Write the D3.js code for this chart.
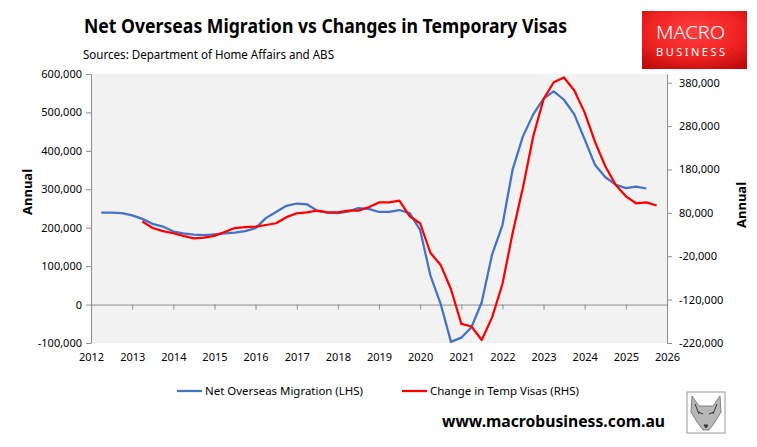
<!DOCTYPE html>
<html>
<head>
<meta charset="utf-8">
<script src="https://cdn.jsdelivr.net/npm/d3@7"></script>
<style>
  body { margin: 0; background: #fff; }
  svg { display: block; }
  text { font-family: "Noto Sans", sans-serif; fill: #000; }
</style>
</head>
<body>
<div id="chart"></div>
<script>
// quarterly observations
var quarters = [
  "2012-04","2012-07","2012-10","2013-01","2013-04","2013-07","2013-10","2014-01",
  "2014-04","2014-07","2014-10","2015-01","2015-04","2015-07","2015-10","2016-01",
  "2016-04","2016-07","2016-10","2017-01","2017-04","2017-07","2017-10","2018-01",
  "2018-04","2018-07","2018-10","2019-01","2019-04","2019-07","2019-10","2020-01",
  "2020-04","2020-07","2020-10","2021-01","2021-04","2021-07","2021-10","2022-01",
  "2022-04","2022-07","2022-10","2023-01","2023-04","2023-07","2023-10","2024-01",
  "2024-04","2024-07","2024-10","2025-01","2025-04","2025-07","2025-10"
];

// Net Overseas Migration (LHS)
var nom = [
  239000, 239000, 238000, 232000, 223000, 210000, 203000, 190000,
  185000, 182000, 181000, 183000, 185000, 187000, 191000, 199000,
  225000, 241000, 257000, 263000, 261000, 244000, 239000, 238000,
  242000, 251000, 249000, 241000, 241000, 246000, 238000, 194000,
  76000, 2000, -97000, -86000, -59000, 6000, 130000, 207000,
  351000, 437000, 495000, 536000, 555000, 533000, 495000, 430000,
  364000, 332000, 312000, 303000, 307000, 302000, null
];

// Change in Temp Visas (RHS)
var tempVisas = [
  null, null, null, null, 60000, 45000, 38000, 33000,
  27000, 21000, 23000, 27000, 36000, 45000, 47000, 48000,
  52000, 56000, 70000, 79000, 81000, 85000, 81000, 81000,
  85000, 85000, 93000, 104000, 104000, 108000, 72000, 56000,
  -12000, -40000, -96000, -176000, -182000, -213000, -161000, -84000,
  33000, 137000, 256000, 342000, 381000, 392000, 362000, 311000,
  244000, 188000, 145000, 118000, 102000, 104000, 97000
];

var leftTicks = [-100000, 0, 100000, 200000, 300000, 400000, 500000, 600000];
var rightTicks = [-220000, -120000, -20000, 80000, 180000, 280000, 380000];
var years = [2012, 2013, 2014, 2015, 2016, 2017, 2018, 2019, 2020, 2021, 2022, 2023, 2024, 2025, 2026];

var width = 757, height = 447;
var plot = {left: 91, right: 667, top: 74, bottom: 343};
var axisColor = "#8c8c8c";

var parseQ = d3.timeParse("%Y-%m");
var dates = quarters.map(parseQ);

var x = d3.scaleTime()
  .domain([new Date(2012, 0, 1), new Date(2026, 0, 1)])
  .range([plot.left, plot.right]);
var yL = d3.scaleLinear().domain([-100000, 600000]).range([plot.bottom, plot.top]);
var yR = d3.scaleLinear().domain([-220000, 400000]).range([plot.bottom, plot.top]);

var fmt = function (v) { return d3.format(",")(v).replace("\u2212", "-"); };

var svg = d3.select("#chart").append("svg")
  .attr("width", width)
  .attr("height", height);

// titles
svg.append("text")
  .attr("x", 84).attr("y", 33)
  .attr("font-size", "20px").attr("font-weight", "bold")
  .attr("textLength", 483).attr("lengthAdjust", "spacingAndGlyphs")
  .text("Net Overseas Migration vs Changes in Temporary Visas");

svg.append("text")
  .attr("x", 83).attr("y", 59)
  .attr("font-size", "12px")
  .attr("textLength", 251).attr("lengthAdjust", "spacingAndGlyphs")
  .text("Sources: Department of Home Affairs and ABS");

// logo
var grad = svg.append("defs").append("radialGradient")
  .attr("id", "logoGrad").attr("cx", "50%").attr("cy", "35%").attr("r", "75%");
grad.append("stop").attr("offset", "0%").attr("stop-color", "#ff4040");
grad.append("stop").attr("offset", "60%").attr("stop-color", "#ee2222");
grad.append("stop").attr("offset", "100%").attr("stop-color", "#c00a0a");

svg.append("rect")
  .attr("x", 642).attr("y", 11).attr("width", 105).attr("height", 58)
  .attr("fill", "url(#logoGrad)");
svg.append("text")
  .attr("x", 656).attr("y", 39)
  .attr("font-family", "Roboto, sans-serif")
  .attr("font-size", "19px").attr("font-weight", 300)
  .attr("textLength", 69).attr("lengthAdjust", "spacingAndGlyphs")
  .style("fill", "#fff")
  .text("MACRO");
svg.append("text")
  .attr("x", 656).attr("y", 56)
  .attr("font-family", "Roboto, sans-serif")
  .attr("font-size", "11px")
  .attr("textLength", 69).attr("lengthAdjust", "spacing")
  .style("fill", "#fff")
  .text("BUSINESS");

// plot area
svg.append("rect")
  .attr("x", plot.left).attr("y", plot.top)
  .attr("width", plot.right - plot.left).attr("height", plot.bottom - plot.top)
  .attr("fill", "#f2f2f2");

// left axis
var gL = svg.append("g")
  .attr("transform", "translate(" + plot.left + ",0)")
  .call(d3.axisLeft(yL).tickValues(leftTicks).tickSize(5).tickSizeOuter(0).tickPadding(4).tickFormat(fmt));

// right axis
var gR = svg.append("g")
  .attr("transform", "translate(" + plot.right + ",0)")
  .call(d3.axisRight(yR).tickValues(rightTicks).tickSize(5).tickSizeOuter(0).tickPadding(7).tickFormat(fmt));

// year axis on the zero line, labels low
var gX = svg.append("g")
  .attr("transform", "translate(0," + yL(0) + ")")
  .call(d3.axisBottom(x)
    .tickValues(years.map(function (y) { return new Date(y, 0, 1); }))
    .tickSize(5).tickSizeOuter(0).tickPadding(44)
    .tickFormat(d3.timeFormat("%Y")));

[gL, gR, gX].forEach(function (g) {
  g.selectAll("path").attr("stroke", axisColor);
  g.selectAll("line").attr("stroke", axisColor);
  g.selectAll("text")
    .attr("font-family", "Noto Sans, sans-serif")
    .attr("font-size", "11px")
    .attr("fill", "#000");
});

// axis titles
svg.append("text")
  .attr("transform", "translate(32,192) rotate(-90)")
  .attr("text-anchor", "middle")
  .attr("font-size", "13px").attr("font-weight", "bold")
  .text("Annual");
svg.append("text")
  .attr("transform", "translate(746,205) rotate(-90)")
  .attr("text-anchor", "middle")
  .attr("font-size", "13px").attr("font-weight", "bold")
  .text("Annual");

// series
var lineL = d3.line()
  .defined(function (d, i) { return nom[i] != null; })
  .x(function (d) { return x(d); })
  .y(function (d, i) { return yL(nom[i]); });
var lineR = d3.line()
  .defined(function (d, i) { return tempVisas[i] != null; })
  .x(function (d) { return x(d); })
  .y(function (d, i) { return yR(tempVisas[i]); });

svg.append("path")
  .attr("d", lineL(dates))
  .attr("fill", "none")
  .attr("stroke", "#4472c4")
  .attr("stroke-width", 2.25)
  .attr("stroke-linejoin", "round");

svg.append("path")
  .attr("d", lineR(dates))
  .attr("fill", "none")
  .attr("stroke", "#ff0000")
  .attr("stroke-width", 2.25)
  .attr("stroke-linejoin", "round");

// legend
svg.append("line")
  .attr("x1", 177).attr("x2", 202).attr("y1", 391).attr("y2", 391)
  .attr("stroke", "#4472c4").attr("stroke-width", 2.25);
svg.append("text")
  .attr("x", 205).attr("y", 395)
  .attr("font-size", "11.5px")
  .attr("textLength", 158).attr("lengthAdjust", "spacingAndGlyphs")
  .text("Net Overseas Migration (LHS)");
svg.append("line")
  .attr("x1", 402).attr("x2", 427).attr("y1", 391).attr("y2", 391)
  .attr("stroke", "#ff0000").attr("stroke-width", 2.25);
svg.append("text")
  .attr("x", 430).attr("y", 395)
  .attr("font-size", "11.5px")
  .attr("textLength", 149).attr("lengthAdjust", "spacingAndGlyphs")
  .text("Change in Temp Visas (RHS)");

// footer
svg.append("text")
  .attr("x", 442).attr("y", 427)
  .attr("font-size", "16px").attr("font-weight", "bold")
  .attr("textLength", 223).attr("lengthAdjust", "spacingAndGlyphs")
  .text("www.macrobusiness.com.au");

// wolf badge
var badge = svg.append("g").attr("transform", "translate(687,392)");
badge.append("rect")
  .attr("width", 38).attr("height", 41)
  .attr("fill", "#fff").attr("stroke", "#9a9a9a").attr("stroke-width", 1);
badge.append("path")
  .attr("d", "M5,4 L12,14 L26,14 L33,4 L34,20 L28,30 L22,38 L16,38 L10,30 L4,20 Z")
  .attr("fill", "#b8b8b8").attr("stroke", "#6a6a6a").attr("stroke-width", 0.8);
badge.append("path")
  .attr("d", "M11,20 L16,22 M27,20 L22,22 M17,33 L21,33 L19,36 Z M8,12 L12,22 M30,12 L26,22")
  .attr("fill", "#333").attr("stroke", "#333").attr("stroke-width", 1);
</script>
</body>
</html>
